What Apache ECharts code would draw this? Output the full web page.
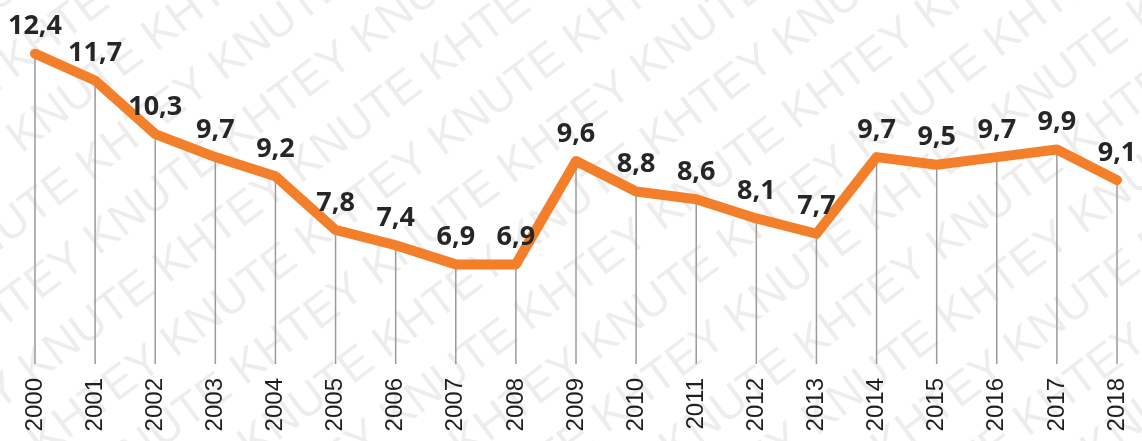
<!DOCTYPE html>
<html>
<head>
<meta charset="utf-8">
<script src="https://cdn.jsdelivr.net/npm/echarts@6/dist/echarts.min.js"></script>
<style>
  html, body { margin: 0; padding: 0; background: #fff; }
  #chart { width: 1142px; height: 441px; }
</style>
</head>
<body>
<div id="chart"></div>
<script>
const years = ['2000', '2001', '2002', '2003', '2004', '2005', '2006', '2007', '2008', '2009',
  '2010', '2011', '2012', '2013', '2014', '2015', '2016', '2017', '2018'];
const values = [12.4, 11.7, 10.3, 9.7, 9.2, 7.8, 7.4, 6.9, 6.9, 9.6,
  8.8, 8.6, 8.1, 7.7, 9.7, 9.5, 9.7, 9.9, 9.1];

const Y_MIN = 4.3;
const Y_MAX = 13.8;

// watermark painted onto a canvas, used as background
function makeWatermark(w, h) {
  const c = document.createElement('canvas');
  c.width = w;
  c.height = h;
  const ctx = c.getContext('2d');
  ctx.fillStyle = '#fff';
  ctx.fillRect(0, 0, w, h);
  ctx.save();
  ctx.translate(w / 2, h / 2);
  ctx.rotate(-37 * Math.PI / 180);
  ctx.font = '46px "Liberation Sans", Arial, sans-serif';
  ctx.fillStyle = 'rgba(0,0,0,0.07)';
  const text = 'KHTEY KNUTE KHTEY KNUTE KHTEY KNUTE KHTEY KNUTE KHTEY KNUTE';
  for (let row = -14; row <= 14; row++) {
    ctx.fillText(text, -900 + (row % 2) * 130, row * 64);
  }
  ctx.restore();
  return c;
}

const chart = echarts.init(document.getElementById('chart'));

const option = {
  backgroundColor: { image: makeWatermark(1142, 441), repeat: 'no-repeat' },
  animation: false,
  grid: { left: 35, right: 25, top: 0, bottom: 77 },
  xAxis: {
    type: 'category',
    data: years,
    boundaryGap: false,
    axisLine: { show: false },
    axisTick: { show: false },
    axisLabel: {
      rotate: 90,
      margin: 14,
      fontSize: 24,
      color: '#1f1f1f',
      fontFamily: '"Liberation Sans", Arial, sans-serif'
    }
  },
  yAxis: {
    type: 'value',
    min: Y_MIN,
    max: Y_MAX,
    show: false,
    splitLine: { show: false }
  },
  series: [
    {
      // vertical drop lines from each point to the base
      type: 'custom',
      z: 1,
      data: values.map((v, i) => [i, v]),
      renderItem: function (params, api) {
        const top = api.coord([api.value(0), api.value(1)]);
        const bottom = api.coord([api.value(0), Y_MIN]);
        return {
          type: 'line',
          shape: { x1: top[0], y1: top[1], x2: bottom[0], y2: bottom[1] },
          style: { stroke: '#9a9a9a', lineWidth: 1.5 }
        };
      }
    },
    {
      type: 'line',
      z: 3,
      data: values,
      symbol: 'circle',
      symbolSize: 1,
      showAllSymbol: true,
      itemStyle: { color: '#F47F2B' },
      lineStyle: { color: '#F47F2B', width: 10, join: 'round', cap: 'round' },
      label: {
        show: true,
        position: 'top',
        distance: 13,
        offset: [4, 0],
        fontSize: 27,
        fontWeight: 'bold',
        color: '#262626',
        fontFamily: '"Open Sans", "Liberation Sans", sans-serif',
        formatter: p => p.value.toFixed(1).replace('.', ',')
      },
      labelLayout: { hideOverlap: false }
    }
  ]
};

chart.setOption(option);
window.addEventListener('resize', () => chart.resize());
</script>
</body>
</html>
